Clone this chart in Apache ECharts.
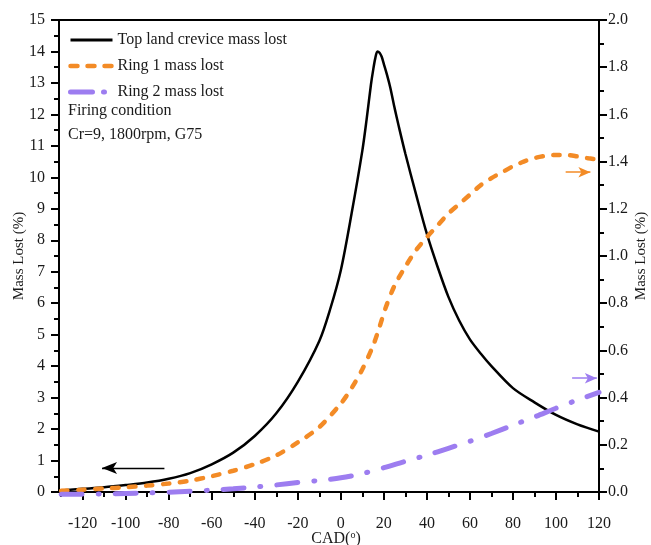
<!DOCTYPE html>
<html><head><meta charset="utf-8">
<script src="https://cdn.jsdelivr.net/npm/echarts@6/dist/echarts.min.js"></script>
<style>html,body{margin:0;padding:0;background:#fff}#c{width:651px;height:545px}</style>
</head><body><div id="c"></div>
<script>
// Top land crevice mass lost (left axis, %)
const cadTop = [-130,-120,-110,-100,-90,-80,-70,-60,-50,-40,-30,-20,-10,-5,0,5,10,12,14,15,16,17,18,19,20,21.5,23,25,27,30,35,40,45,50,55,60,65,70,80,90,100,110,120];
const topLand = [0.05,0.1,0.15,0.22,0.3,0.42,0.6,0.88,1.25,1.78,2.5,3.5,4.8,5.8,7.05,8.85,10.85,11.85,12.95,13.4,13.78,14.0,13.96,13.83,13.6,13.25,12.85,12.2,11.6,10.75,9.45,8.2,7.15,6.2,5.45,4.85,4.4,4.0,3.3,2.85,2.45,2.15,1.92];
// Ring 1 mass lost (right axis, %)
const cadRing1 = [-130,-120,-110,-100,-90,-80,-70,-60,-50,-40,-30,-20,-10,0,5,10,15,18,21,25,30,35,40,45,50,55,60,65,70,75,80,85,90,95,100,105,110,115,120];
const ring1 = [0.005,0.01,0.015,0.02,0.027,0.036,0.048,0.067,0.09,0.118,0.155,0.21,0.275,0.375,0.44,0.52,0.62,0.7,0.785,0.875,0.955,1.025,1.08,1.13,1.18,1.22,1.26,1.3,1.33,1.355,1.38,1.4,1.415,1.424,1.428,1.428,1.422,1.414,1.408];
// Ring 2 mass lost (right axis, %)
const cadRing2 = [-130,-110,-90,-70,-60,-50,-40,-30,-20,-10,0,10,20,30,40,50,60,70,80,90,100,110,120];
const ring2 = [-0.01,-0.008,-0.004,0.003,0.008,0.014,0.021,0.03,0.04,0.049,0.06,0.078,0.103,0.13,0.156,0.185,0.215,0.248,0.283,0.318,0.355,0.39,0.422];
// Axis ticks
const xMajor = [-120,-100,-80,-60,-40,-20,0,20,40,60,80,100,120];
const xMinor = [-130,-110,-90,-70,-50,-30,-10,10,30,50,70,90,110];
const seriesNames = ['Top land crevice mass lost','Ring 1 mass lost','Ring 2 mass lost'];
const noteLines = ['Firing condition','Cr=9, 1800rpm, G75'];

const zip = (a,b)=>a.map((x,i)=>[x,b[i]]);
const FONT = 'Liberation Serif';
const TXT = '#1a1a1a';
const ORANGE = '#f38b26', PURPLE = '#9d7df0';
const chart = echarts.init(document.getElementById('c'));
const axisLineStyle = {color:'#000', width:2};

chart.setOption({
  animation:false,
  backgroundColor:'#fff',
  grid:{left:59,right:52,top:20,bottom:53,outerBoundsMode:'none',containLabel:false,
        show:true,borderColor:'#000',borderWidth:2,backgroundColor:'transparent'},
  legend:{
    data:[
      {name:seriesNames[0],lineStyle:{color:'#000',width:3}},
      {name:seriesNames[1],lineStyle:{color:ORANGE,width:4.5,type:[7,10],cap:'round'}},
      {name:seriesNames[2],lineStyle:{color:PURPLE,width:5,type:[22,11,1,11],cap:'round'}}
    ],
    orient:'vertical', left:68, top:32, padding:0,
    itemWidth:42, itemHeight:14, itemGap:10,
    itemStyle:{opacity:0},
    textStyle:{fontFamily:FONT,fontSize:16,color:TXT}
  },
  graphic:[
    {type:'text',left:68,top:103,style:{text:noteLines[0],font:'16px "Liberation Serif"',fill:TXT}},
    {type:'text',left:68,top:127,style:{text:noteLines[1],font:'16px "Liberation Serif"',fill:TXT}}
  ],
  xAxis:[
    {type:'value',min:-131,max:120,position:'bottom',
     name:'{a|CAD(}{s|o}{a|)}',nameLocation:'middle',nameGap:38,nameMoveOverlap:false,
     nameTextStyle:{padding:[0,0,0,14],rich:{a:{fontFamily:FONT,fontSize:16,color:TXT},s:{fontFamily:FONT,fontSize:10,color:TXT,verticalAlign:'top',padding:[0,0,8,0]}}},
     axisLine:{onZero:false,lineStyle:axisLineStyle},
     axisTick:{customValues:xMajor,length:8,lineStyle:axisLineStyle},
     axisLabel:{customValues:xMajor,margin:24,fontFamily:FONT,fontSize:16,color:TXT},
     splitLine:{show:false}},
    {type:'value',min:-131,max:120,position:'bottom',
     axisLine:{show:false,onZero:false},
     axisTick:{customValues:xMinor,length:5,lineStyle:axisLineStyle},
     axisLabel:{show:false},splitLine:{show:false}}
  ],
  yAxis:[
    {type:'value',min:0,max:15,interval:1,position:'left',
     name:'Mass Lost (%)',nameLocation:'middle',nameGap:32,nameMoveOverlap:false,
     nameTextStyle:{fontFamily:FONT,fontSize:15,color:TXT},
     axisLine:{show:true,onZero:false,lineStyle:axisLineStyle},
     axisTick:{length:8,lineStyle:axisLineStyle},
     minorTick:{show:true,splitNumber:2,length:5,lineStyle:axisLineStyle},
     axisLabel:{margin:14,fontFamily:FONT,fontSize:16,color:TXT},
     splitLine:{show:false}},
    {type:'value',min:0,max:2,interval:0.2,position:'right',
     name:'Mass Lost (%)',nameLocation:'middle',nameGap:35,nameRotate:90,nameMoveOverlap:false,
     nameTextStyle:{fontFamily:FONT,fontSize:15,color:TXT},
     axisLine:{show:true,onZero:false,lineStyle:axisLineStyle},
     axisTick:{length:8,lineStyle:axisLineStyle},
     minorTick:{show:true,splitNumber:2,length:5,lineStyle:axisLineStyle},
     axisLabel:{margin:9,fontFamily:FONT,fontSize:16,color:TXT,formatter:v=>v.toFixed(1)},
     splitLine:{show:false}}
  ],
  series:[
    {name:seriesNames[0],type:'line',xAxisIndex:0,yAxisIndex:0,data:zip(cadTop,topLand),
     symbol:'none',smooth:0.3,clip:false,
     lineStyle:{color:'#000',width:2.5},itemStyle:{color:'#000'},
     markLine:{silent:true,symbol:['none','arrow'],symbolSize:[9,15],label:{show:false},
       lineStyle:{color:'#000',width:1.3,type:'solid'},
       data:[[{coord:[-82,0.76]},{coord:[-111,0.76]}]]}},
    {name:seriesNames[1],type:'line',xAxisIndex:0,yAxisIndex:1,data:zip(cadRing1,ring1),
     symbol:'none',smooth:0.3,clip:false,
     lineStyle:{color:ORANGE,width:4.5,type:[6.5,10.5],cap:'round'},itemStyle:{color:ORANGE},
     markLine:{silent:true,symbol:['none','arrow'],symbolSize:[8,12],label:{show:false},
       lineStyle:{color:ORANGE,width:1.5,type:'solid'},
       data:[[{coord:[104.5,1.355]},{coord:[116,1.355]}]]}},
    {name:seriesNames[2],type:'line',xAxisIndex:0,yAxisIndex:1,data:zip(cadRing2,ring2),
     symbol:'none',smooth:0.3,clip:false,
     lineStyle:{color:PURPLE,width:5,type:[21,16,1,16],cap:'round'},itemStyle:{color:PURPLE},
     markLine:{silent:true,symbol:['none','arrow'],symbolSize:[8,12],label:{show:false},
       lineStyle:{color:PURPLE,width:1.5,type:'solid'},
       data:[[{coord:[107.5,0.482]},{coord:[119,0.482]}]]}}
  ]
});
</script></body></html>
